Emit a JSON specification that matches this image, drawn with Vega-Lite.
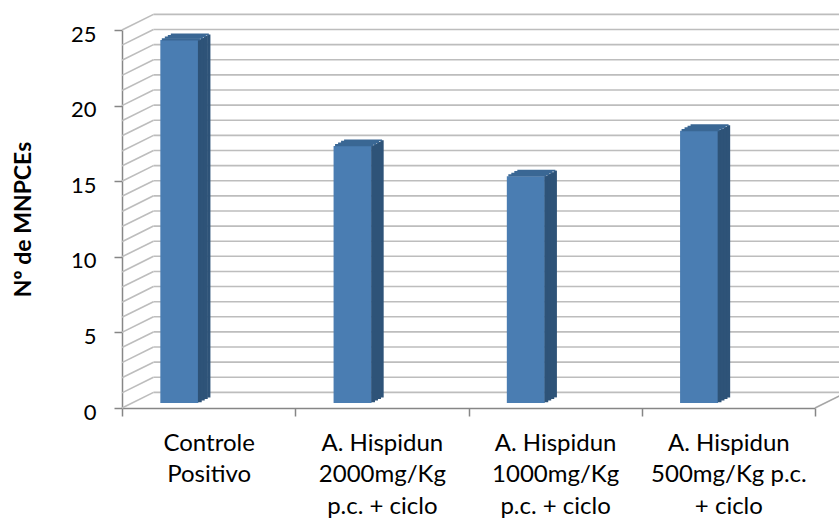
{
  "$schema": "https://vega.github.io/schema/vega-lite/v6.json",
  "width": 693,
  "height": 378,
  "autosize": {"type": "none"},
  "padding": {"left": 122, "top": 30, "right": 24, "bottom": 115},
  "background": "white",
  "config": {"view": {"stroke": null}, "font": "Lato", "aria": false},
  "datasets": {
    "tratamentos": [
      {"ordem": 1, "grupo": "Controle Positivo", "mnpce": 24},
      {"ordem": 2, "grupo": "A. Hispidun 2000mg/Kg p.c. + ciclo", "mnpce": 17},
      {"ordem": 3, "grupo": "A. Hispidun 1000mg/Kg p.c. + ciclo", "mnpce": 15},
      {"ordem": 4, "grupo": "A. Hispidun 500mg/Kg p.c. + ciclo", "mnpce": 18}
    ],
    "grade": [
      {"g": 0}, {"g": 1}, {"g": 2}, {"g": 3}, {"g": 4}, {"g": 5}, {"g": 6}, {"g": 7}, {"g": 8}, {"g": 9},
      {"g": 10}, {"g": 11}, {"g": 12}, {"g": 13}, {"g": 14}, {"g": 15}, {"g": 16}, {"g": 17}, {"g": 18},
      {"g": 19}, {"g": 20}, {"g": 21}, {"g": 22}, {"g": 23}, {"g": 24}, {"g": 25}
    ]
  },
  "layer": [
    {
      "data": {"name": "grade"},
      "mark": {"type": "rule", "color": "#bdbdbd", "strokeWidth": 1.6, "xOffset": 31.5, "x2Offset": 31.5, "yOffset": -15.6},
      "encoding": {
        "x": {"value": 0},
        "x2": {"value": "width"},
        "y": {
          "field": "g", "type": "quantitative",
          "scale": {"domain": [0, 25], "nice": false, "zero": true},
          "axis": {
            "values": [0, 5, 10, 15, 20, 25],
            "grid": false,
            "domainColor": "#868686",
            "domainWidth": 1.5,
            "tickColor": "#868686",
            "tickWidth": 1.5,
            "tickSize": 8,
            "labelFontSize": 22,
            "labelColor": "#000000",
            "labelPadding": 18,
            "labelOffset": 4,
            "title": "Nº de MNPCEs",
            "titleFontSize": 23,
            "titleFontWeight": "bold",
            "titleColor": "#000000",
            "titlePadding": 35
          }
        }
      }
    },
    {
      "data": {"name": "grade"},
      "mark": {"type": "rule", "color": "#bdbdbd", "strokeWidth": 1.6, "x2Offset": 31.5, "y2Offset": -15.6},
      "encoding": {
        "x": {"value": 0},
        "x2": {"value": 0},
        "y": {"field": "g", "type": "quantitative"},
        "y2": {"field": "g"}
      }
    },
    {
      "data": {"name": "grade"},
      "transform": [{"filter": "datum.g == 0"}],
      "mark": {"type": "rule", "color": "#a6a6a6", "strokeWidth": 1.6, "x2Offset": 31.5, "y2Offset": -15.6},
      "encoding": {
        "x": {"value": "width"},
        "x2": {"value": "width"},
        "y": {"field": "g", "type": "quantitative"},
        "y2": {"field": "g"}
      }
    },
    {
      "data": {"name": "tratamentos"},
      "mark": {"type": "rule", "color": "#4A7DB2", "strokeWidth": 38, "strokeCap": "butt", "xOffset": -29.3, "yOffset": -5, "y2Offset": -5},
      "encoding": {
        "x": {
          "field": "ordem", "type": "quantitative",
          "scale": {"domain": [0.5, 4.5], "nice": false, "zero": false},
          "axis": {
            "title": null,
            "grid": false,
            "values": [0.5, 1, 1.5, 2, 2.5, 3, 3.5, 4, 4.5],
            "labelAngle": 0,
            "labelOverlap": false,
            "labelFlush": false,
            "labelBound": false,
            "domainColor": "#868686",
            "domainWidth": 1.5,
            "tickColor": "#868686",
            "tickWidth": 1.5,
            "tickSize": 8,
            "tickOpacity": {"condition": {"test": "datum.value % 1 != 0", "value": 1}, "value": 0},
            "labelFontSize": 24,
            "labelColor": "#000000",
            "labelLineHeight": 31.5,
            "labelPadding": 15,
            "labelExpr": "datum.value == 1 ? ['Controle', 'Positivo'] : datum.value == 2 ? ['A. Hispidun', '2000mg/Kg', 'p.c. + ciclo'] : datum.value == 3 ? ['A. Hispidun', '1000mg/Kg', 'p.c. + ciclo'] : datum.value == 4 ? ['A. Hispidun', '500mg/Kg p.c.', '+ ciclo'] : ''"
          }
        },
        "y": {"field": "mnpce", "type": "quantitative"},
        "y2": {"datum": 0}
      }
    },
    {
      "data": {"name": "tratamentos"},
      "mark": {"type": "rule", "color": "#2E5378", "strokeWidth": 3.8, "strokeCap": "butt", "xOffset": -8.8, "yOffset": -5.8, "y2Offset": -5.8},
      "encoding": {"x": {"field": "ordem", "type": "quantitative"}, "y": {"field": "mnpce", "type": "quantitative"}, "y2": {"datum": 0}}
    },
    {
      "data": {"name": "tratamentos"},
      "mark": {"type": "rule", "color": "#2E5378", "strokeWidth": 3.8, "strokeCap": "butt", "xOffset": -5.8, "yOffset": -7.4, "y2Offset": -7.4},
      "encoding": {"x": {"field": "ordem", "type": "quantitative"}, "y": {"field": "mnpce", "type": "quantitative"}, "y2": {"datum": 0}}
    },
    {
      "data": {"name": "tratamentos"},
      "mark": {"type": "rule", "color": "#2E5378", "strokeWidth": 3.8, "strokeCap": "butt", "xOffset": -2.8, "yOffset": -9.0, "y2Offset": -9.0},
      "encoding": {"x": {"field": "ordem", "type": "quantitative"}, "y": {"field": "mnpce", "type": "quantitative"}, "y2": {"datum": 0}}
    },
    {
      "data": {"name": "tratamentos"},
      "mark": {"type": "rule", "color": "#2E5378", "strokeWidth": 3.2, "strokeCap": "butt", "xOffset": 0.2, "yOffset": -10.6, "y2Offset": -10.6},
      "encoding": {"x": {"field": "ordem", "type": "quantitative"}, "y": {"field": "mnpce", "type": "quantitative"}, "y2": {"datum": 0}}
    },
    {
      "data": {"name": "tratamentos"},
      "mark": {"type": "rule", "color": "#3A6794", "strokeWidth": 2.2, "strokeCap": "butt", "xOffset": -46.8, "x2Offset": -8.8, "yOffset": -5.8, "y2Offset": -5.8},
      "encoding": {"x": {"field": "ordem", "type": "quantitative"}, "x2": {"field": "ordem"}, "y": {"field": "mnpce", "type": "quantitative"}, "y2": {"field": "mnpce"}}
    },
    {
      "data": {"name": "tratamentos"},
      "mark": {"type": "rule", "color": "#3A6794", "strokeWidth": 2.2, "strokeCap": "butt", "xOffset": -43.8, "x2Offset": -5.8, "yOffset": -7.4, "y2Offset": -7.4},
      "encoding": {"x": {"field": "ordem", "type": "quantitative"}, "x2": {"field": "ordem"}, "y": {"field": "mnpce", "type": "quantitative"}, "y2": {"field": "mnpce"}}
    },
    {
      "data": {"name": "tratamentos"},
      "mark": {"type": "rule", "color": "#3A6794", "strokeWidth": 2.2, "strokeCap": "butt", "xOffset": -40.8, "x2Offset": -2.8, "yOffset": -9.0, "y2Offset": -9.0},
      "encoding": {"x": {"field": "ordem", "type": "quantitative"}, "x2": {"field": "ordem"}, "y": {"field": "mnpce", "type": "quantitative"}, "y2": {"field": "mnpce"}}
    },
    {
      "data": {"name": "tratamentos"},
      "mark": {"type": "rule", "color": "#3A6794", "strokeWidth": 1.8, "strokeCap": "butt", "xOffset": -37.8, "x2Offset": 0.2, "yOffset": -10.6, "y2Offset": -10.6},
      "encoding": {"x": {"field": "ordem", "type": "quantitative"}, "x2": {"field": "ordem"}, "y": {"field": "mnpce", "type": "quantitative"}, "y2": {"field": "mnpce"}}
    }
  ]
}
